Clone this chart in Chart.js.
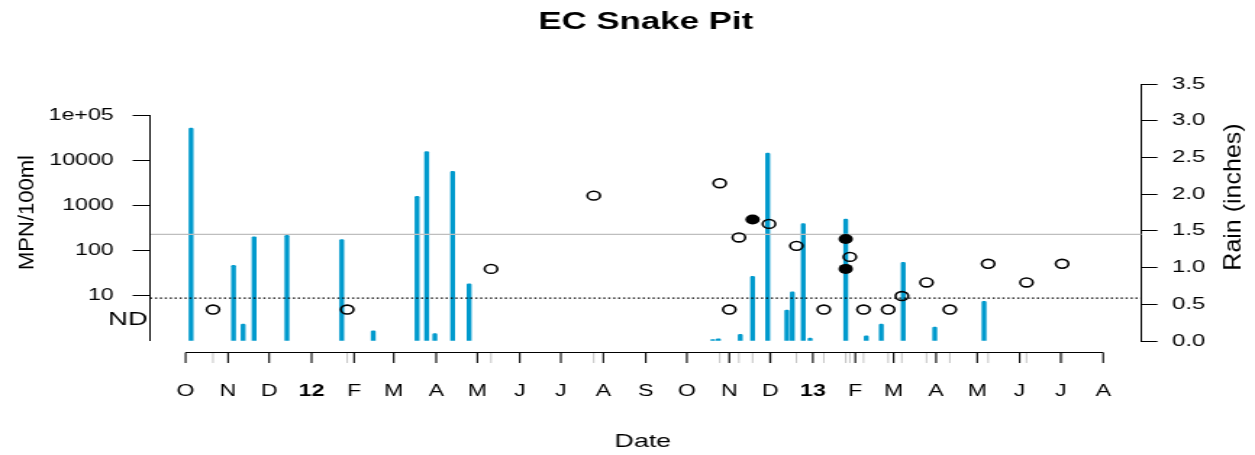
<!DOCTYPE html>
<html>
<head>
<meta charset="utf-8">
<title>EC Snake Pit</title>
<script src="https://cdn.jsdelivr.net/npm/chart.js@4.4.1/dist/chart.umd.min.js"></script>
<style>
  html, body { margin: 0; padding: 0; background: #fff; overflow: hidden; }
  canvas { display: block; }
</style>
</head>
<body>
<!-- drawn on a narrow canvas, then widened by css -->
<canvas id="myChart" width="866" height="455" style="width:1255px;height:455px"></canvas>
<script>
// daily rain totals (inches)
const rainDates = ['2011-10-05', '2011-11-05', '2011-11-12', '2011-11-20', '2011-12-14', '2012-01-23',
	'2012-02-15', '2012-03-18', '2012-03-25', '2012-03-31', '2012-04-13', '2012-04-25',
	'2012-10-20', '2012-10-24', '2012-11-09', '2012-11-18', '2012-11-29', '2012-12-13',
	'2012-12-17', '2012-12-25', '2012-12-30', '2013-01-25', '2013-02-09', '2013-02-20',
	'2013-03-08', '2013-03-31', '2013-05-06']
const rainInches = [2.90, 1.03, 0.23, 1.42, 1.44, 1.38,
	0.14, 1.97, 2.58, 0.10, 2.31, 0.78,
	0.02, 0.03, 0.09, 0.88, 2.56, 0.42,
	0.67, 1.60, 0.04, 1.66, 0.07, 0.23,
	1.07, 0.19, 0.54]

// enterococcus samples, MPN/100ml ('ND' = not detected)
const sampleDates = ['2011-10-21', '2012-01-27', '2012-05-11', '2012-07-25', '2012-10-25', '2012-11-01',
	'2012-11-08', '2012-11-30', '2012-12-20', '2013-01-09', '2013-01-28', '2013-02-07',
	'2013-02-25', '2013-03-07', '2013-03-25', '2013-04-11', '2013-05-09', '2013-06-06', '2013-07-02']
const sampleMPN = ['ND', 'ND', 40, 1700, 3200, 'ND',
	200, 400, 130, 'ND', 74, 'ND',
	'ND', 10, 20, 'ND', 52, 20, 52]

// repeat samples (filled dots)
const repeatDates = ['2012-11-18', '2013-01-25', '2013-01-25']
const repeatMPN = [500, 185, 40]

const monthLabels = ['O', 'N', 'D', '12', 'F', 'M', 'A', 'M', 'J', 'J', 'A', 'S',
	'O', 'N', 'D', '13', 'F', 'M', 'A', 'M', 'J', 'J', 'A']
const mpnTicks = [10, 100, 1000, 10000, 100000]
const mpnTickLabels = ['10', '100', '1000', '10000', '1e+05']

const standardMPN = 235     // single sample standard
const detectionMPN = 9      // dotted reference line
const ndLevel = 5           // height used for ND results
const ndLabelLevel = 3

const FONT = '"Liberation Sans", Arial, Helvetica, sans-serif'
const STRETCH = 1255 / 866

function dayNum(s) {
	var p = s.split('-')
	return Date.UTC(+p[0], +p[1] - 1, +p[2]) / 86400000
}

// first day of every month, Oct 2011 .. Aug 2013
var monthDays = []
for (var i = 0; i < monthLabels.length; i++) {
	monthDays.push(Date.UTC(2011, 9 + i, 1) / 86400000)
}
var xMin = dayNum('2011-09-05')
var xMax = dayNum('2013-08-29')

var rainData = rainDates.map(function(d, i) { return {x: dayNum(d), y: rainInches[i]} })
var sampleData = sampleDates.map(function(d, i) {
	return {x: dayNum(d), y: sampleMPN[i] === 'ND' ? ndLevel : sampleMPN[i]}
})
var repeatData = repeatDates.map(function(d, i) { return {x: dayNum(d), y: repeatMPN[i]} })

function rotatedText(ctx, text, x, y, size) {
	ctx.save()
	ctx.translate(x, y)
	ctx.scale(1 / STRETCH, 1)   // undo the css widening for upright titles
	ctx.rotate(-Math.PI / 2)
	ctx.font = size + 'px ' + FONT
	ctx.textAlign = 'center'
	ctx.textBaseline = 'middle'
	ctx.fillText(text, 0, 0)
	ctx.restore()
}

// date axis below the plot, left axis line, ND label and axis titles
var axisExtras = {
	id: 'axisExtras',
	afterDraw: function(chart) {
		var ctx = chart.ctx
		var area = chart.chartArea
		var xs = chart.scales.x
		var ys = chart.scales.y
		ctx.save()
		ctx.lineWidth = 1
		ctx.strokeStyle = '#000'
		ctx.beginPath()
		ctx.moveTo(area.left, ys.getPixelForValue(1))
		ctx.lineTo(area.left, ys.getPixelForValue(100000))
		ctx.stroke()

		var top = area.bottom + 11.5
		var len = 10.5
		// grey rug at every sampling date
		ctx.strokeStyle = '#c4c4c4'
		sampleDates.concat(repeatDates).forEach(function(d) {
			var px = xs.getPixelForValue(dayNum(d))
			ctx.beginPath()
			ctx.moveTo(px, top)
			ctx.lineTo(px, top + len)
			ctx.stroke()
		})
		ctx.strokeStyle = '#000'
		ctx.lineWidth = 1.2
		ctx.beginPath()
		ctx.moveTo(xs.getPixelForValue(monthDays[0]), top)
		ctx.lineTo(xs.getPixelForValue(monthDays[monthDays.length - 1]), top)
		ctx.stroke()
		ctx.lineWidth = 1.1
		monthDays.forEach(function(d) {
			var px = xs.getPixelForValue(d)
			ctx.beginPath()
			ctx.moveTo(px, top)
			ctx.lineTo(px, top + len)
			ctx.stroke()
		})

		ctx.fillStyle = '#000'
		ctx.font = '19px ' + FONT
		ctx.textAlign = 'right'
		ctx.textBaseline = 'middle'
		ctx.fillText('ND', area.left - 1.5, ys.getPixelForValue(ndLabelLevel))

		ctx.font = '18.5px ' + FONT
		ctx.textAlign = 'center'
		ctx.fillText('Date', (area.left + area.right) / 2 - 2, 442)

		rotatedText(ctx, 'MPN/100ml', 18.6, (area.top + area.bottom) / 2, 22)
		rotatedText(ctx, 'Rain (inches)', 851.6, 197, 25)
		ctx.restore()
	}
}

var mychart = document.getElementById('myChart').getContext('2d')

var chart = new Chart(mychart, {
	type: 'scatter',
	data: {
		datasets: [
			{
				label: 'Repeat',
				data: repeatData,
				pointRadius: 5,
				pointBackgroundColor: '#000',
				pointBorderWidth: 0,
				order: 0
			},
			{
				label: 'Enterococcus',
				data: sampleData,
				pointRadius: 4.4,
				pointBorderColor: '#000',
				pointBackgroundColor: 'rgba(0,0,0,0)',
				pointBorderWidth: 1.6,
				order: 1
			},
			{
				type: 'line',
				label: 'Standard',
				data: [{x: xMin, y: standardMPN}, {x: xMax, y: standardMPN}],
				borderColor: '#bebebe',
				borderWidth: 1.3,
				pointRadius: 0,
				order: 2
			},
			{
				type: 'line',
				label: 'Detection',
				data: [{x: xMin, y: detectionMPN}, {x: xMax, y: detectionMPN}],
				borderColor: '#000',
				borderWidth: 1.3,
				borderDash: [1.5, 1.9],
				pointRadius: 0,
				order: 2
			},
			{
				type: 'bar',
				label: 'Rain',
				data: rainData,
				yAxisID: 'yRain',
				backgroundColor: '#009acd',
				barThickness: 2.7,
				borderRadius: 1.2,
				order: 3
			}
		]
	},
	options: {
		responsive: false,
		devicePixelRatio: 1,
		animation: false,
		events: [],
		layout: {padding: 0},
		plugins: {
			legend: {display: false},
			tooltip: {enabled: false},
			title: {
				display: true,
				text: 'EC Snake Pit',
				color: '#000',
				fullSize: false,
				font: {family: FONT, size: 24, weight: 'bold', lineHeight: 1.2},
				padding: {top: 7.6, bottom: 47.6}
			}
		},
		scales: {
			x: {
				type: 'linear',
				min: xMin,
				max: xMax,
				offset: false,
				grid: {display: false, drawTicks: false},
				border: {display: false},
				afterBuildTicks: function(scale) {
					scale.ticks = monthDays.map(function(d) { return {value: d} })
				},
				ticks: {
					autoSkip: false,
					maxRotation: 0,
					minRotation: 0,
					padding: 40.5,
					color: '#000',
					font: function(c) {
						var lab = monthLabels[c.index] || ''
						return {family: FONT, size: 16, weight: /\d/.test(lab) ? 'bold' : 'normal'}
					},
					callback: function(v, i) { return monthLabels[i] }
				},
				afterFit: function(scale) { scale.height = 114 }
			},
			y: {
				type: 'logarithmic',
				position: 'left',
				min: 1,
				max: 514000,
				grid: {drawOnChartArea: false, drawTicks: true, tickLength: 12, color: '#000'},
				border: {display: false},
				afterBuildTicks: function(scale) {
					scale.ticks = mpnTicks.map(function(v) { return {value: v} })
				},
				ticks: {
					padding: 13,
					color: '#000',
					font: {family: FONT, size: 16},
					callback: function(v, i) { return mpnTickLabels[i] }
				},
				afterFit: function(scale) { scale.width = 103.5 }
			},
			yRain: {
				type: 'linear',
				position: 'right',
				min: 0,
				max: 3.5,
				grid: {drawOnChartArea: false, drawTicks: true, tickLength: 11, color: '#000'},
				border: {display: true, color: '#000', width: 1},
				ticks: {
					stepSize: 0.5,
					padding: 10,
					color: '#000',
					font: {family: FONT, size: 16.5},
					callback: function(v) { return v.toFixed(1) }
				},
				afterFit: function(scale) { scale.width = 866 - 787.7 }
			}
		}
	},
	plugins: [axisExtras]
})
</script>
</body>
</html>
